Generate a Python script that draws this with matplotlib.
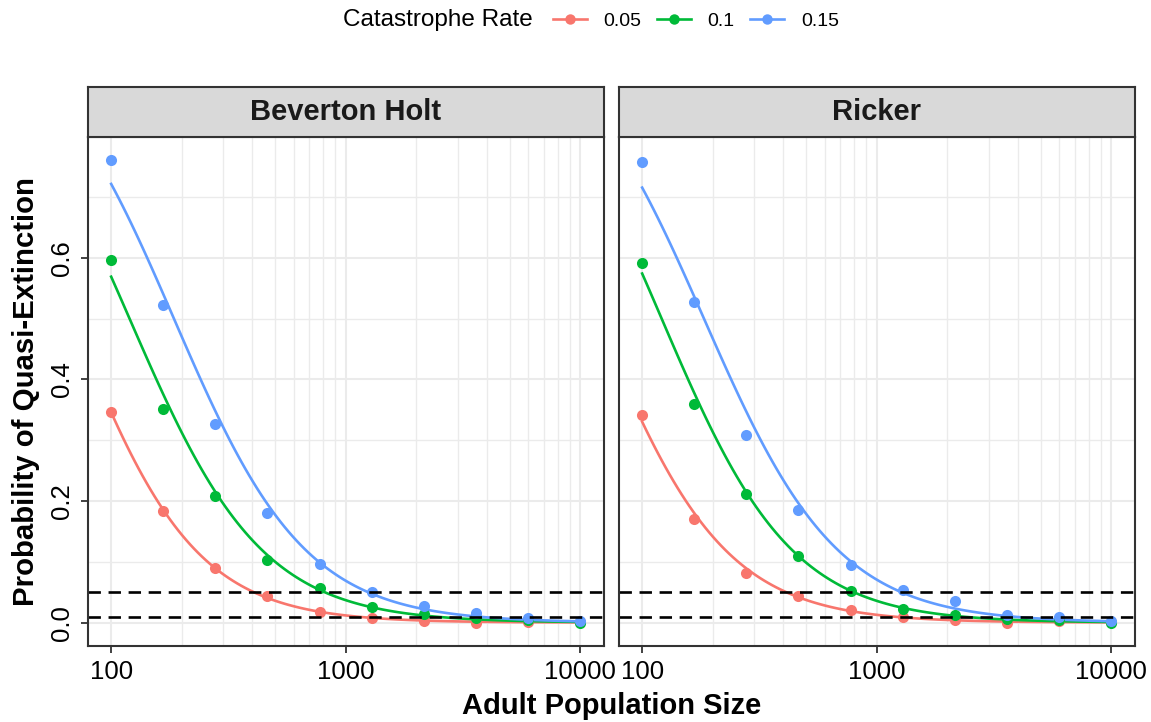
import numpy as np
import matplotlib
matplotlib.use("Agg")
import matplotlib.pyplot as plt
from matplotlib.lines import Line2D
from matplotlib.ticker import FixedLocator, NullFormatter

plt.rcParams['font.family'] = ['Liberation Sans', 'DejaVu Sans']

# adult population sizes (log-spaced) used in the simulations
pop_size = [100, 167, 278, 464, 774, 1292, 2154, 3594, 5995, 10000]
rates = ['0.05', '0.1', '0.15']
colors = ['#F8766D', '#00BA38', '#619CFF']
models = ['Beverton Holt', 'Ricker']

# probability of quasi-extinction, per model and catastrophe rate
bh_005 = [0.346, 0.183, 0.090, 0.043, 0.018, 0.008, 0.002, 0.000, 0.001, 0.001]
bh_010 = [0.596, 0.352, 0.208, 0.103, 0.057, 0.026, 0.014, 0.008, 0.005, 0.000]
bh_015 = [0.760, 0.523, 0.326, 0.180, 0.096, 0.050, 0.028, 0.016, 0.007, 0.003]
rk_005 = [0.342, 0.170, 0.082, 0.043, 0.021, 0.010, 0.004, 0.000, 0.002, 0.001]
rk_010 = [0.591, 0.360, 0.212, 0.109, 0.052, 0.023, 0.013, 0.006, 0.005, 0.000]
rk_015 = [0.757, 0.527, 0.309, 0.185, 0.094, 0.053, 0.035, 0.013, 0.009, 0.003]

data = {
    'Beverton Holt': [bh_005, bh_010, bh_015],
    'Ricker': [rk_005, rk_010, rk_015],
}
thresholds = [0.05, 0.01]


def logistic_fit(x, p, n_iter=60):
    # binomial glm on log10(x) by iteratively reweighted least squares
    X = np.column_stack([np.ones(len(x)), np.log10(x)])
    beta = np.zeros(2)
    for _ in range(n_iter):
        eta = X @ beta
        mu = 1 / (1 + np.exp(-eta))
        w = np.clip(mu * (1 - mu), 1e-10, None)
        z = eta + (p - mu) / w
        beta = np.linalg.solve(X.T @ (X * w[:, None]), X.T @ (w * z))
    return beta


W, H = 1151, 722
fig = plt.figure(figsize=(W / 100, H / 100), dpi=100)

panel_x = [(87.7, 603.7), (618.7, 1134.7)]
p_top, p_bot = 137.3, 645.7
s_top = 86.7
edge = '#333333'
grid = '#EBEBEB'

xs = np.array(pop_size, dtype=float)
xfine = np.logspace(2, 4, 120)
major_x = [100, 1000, 10000]
minor_x = [m * d for d in (100, 1000) for m in range(2, 10)]

for i, model in enumerate(models):
    x0, x1 = panel_x[i]
    ax = fig.add_axes([x0 / W, 1 - p_bot / H, (x1 - x0) / W, (p_bot - p_top) / H])
    ax.set_xscale('log')
    ax.set_xlim(10 ** 1.9, 10 ** 4.1)
    ax.set_ylim(-0.038, 0.798)

    for v in minor_x:
        ax.axvline(v, color=grid, lw=1.0, zorder=0)
    for v in [0.1, 0.3, 0.5, 0.7]:
        ax.axhline(v, color=grid, lw=1.0, zorder=0)
    for v in major_x:
        ax.axvline(v, color=grid, lw=1.5, zorder=0)
    for v in [0.0, 0.2, 0.4, 0.6]:
        ax.axhline(v, color=grid, lw=1.5, zorder=0)

    for series, col in zip(data[model], colors):
        p = np.array(series)
        b = logistic_fit(xs, p)
        yfit = 1 / (1 + np.exp(-(b[0] + b[1] * np.log10(xfine))))
        ax.plot(xfine, yfit, color=col, lw=1.9, zorder=3)
        ax.plot(xs, p, 'o', color=col, ms=8, mec='none', zorder=4)

    for t in thresholds:
        ax.axhline(t, color='black', lw=1.9, ls=(0, (4.7, 2.9)), zorder=5)

    ax.xaxis.set_major_locator(FixedLocator(major_x))
    ax.xaxis.set_minor_locator(FixedLocator(minor_x))
    ax.xaxis.set_minor_formatter(NullFormatter())
    ax.set_xticklabels(['100', '1000', '10000'])
    ax.set_yticks([0.0, 0.2, 0.4, 0.6])
    ax.tick_params(which='minor', length=0)
    ax.tick_params(which='major', length=5, width=1.3, color=edge,
                   labelsize=18.5, labelcolor='black', pad=5)
    if i == 0:
        ax.set_yticklabels(['0.0', '0.2', '0.4', '0.6'], rotation=90, va='center')
    else:
        ax.tick_params(axis='y', left=False, labelleft=False)

    for sp in ax.spines.values():
        sp.set_color(edge)
        sp.set_linewidth(1.5)
        sp.set_zorder(6)

    # facet strip
    sax = fig.add_axes([x0 / W, 1 - p_top / H, (x1 - x0) / W, (p_top - s_top) / H])
    sax.set_facecolor('#D9D9D9')
    sax.set_xticks([])
    sax.set_yticks([])
    for sp in sax.spines.values():
        sp.set_color(edge)
        sp.set_linewidth(1.5)
    sax.text(0.5, 0.5, model, transform=sax.transAxes, ha='center', va='center',
             fontsize=21, fontweight='bold', color='#1A1A1A')

fig.text((87.7 + 1134.7) / 2 / W, 1 - 706 / H, 'Adult Population Size',
         ha='center', va='center', fontsize=21, fontweight='bold')
fig.text(26 / W, 1 - (p_top + p_bot) / 2 / H, 'Probability of Quasi-Extinction',
         ha='center', va='center', rotation=90, fontsize=21.2, fontweight='bold')

# legend across the top
fig.text(343 / W, 1 - 20 / H, 'Catastrophe Rate', ha='left', va='center', fontsize=17.5)
handles = [Line2D([], [], color=c, lw=1.9, marker='o', ms=7.5, mec='none') for c in colors]
fig.legend(handles, rates, loc='center left', bbox_to_anchor=(553 / W, 1 - 21 / H),
           ncol=3, frameon=False, fontsize=14, handlelength=1.75,
           handletextpad=0.85, columnspacing=0.8, borderaxespad=0, borderpad=0)

fig.savefig('out.png', dpi=100)
